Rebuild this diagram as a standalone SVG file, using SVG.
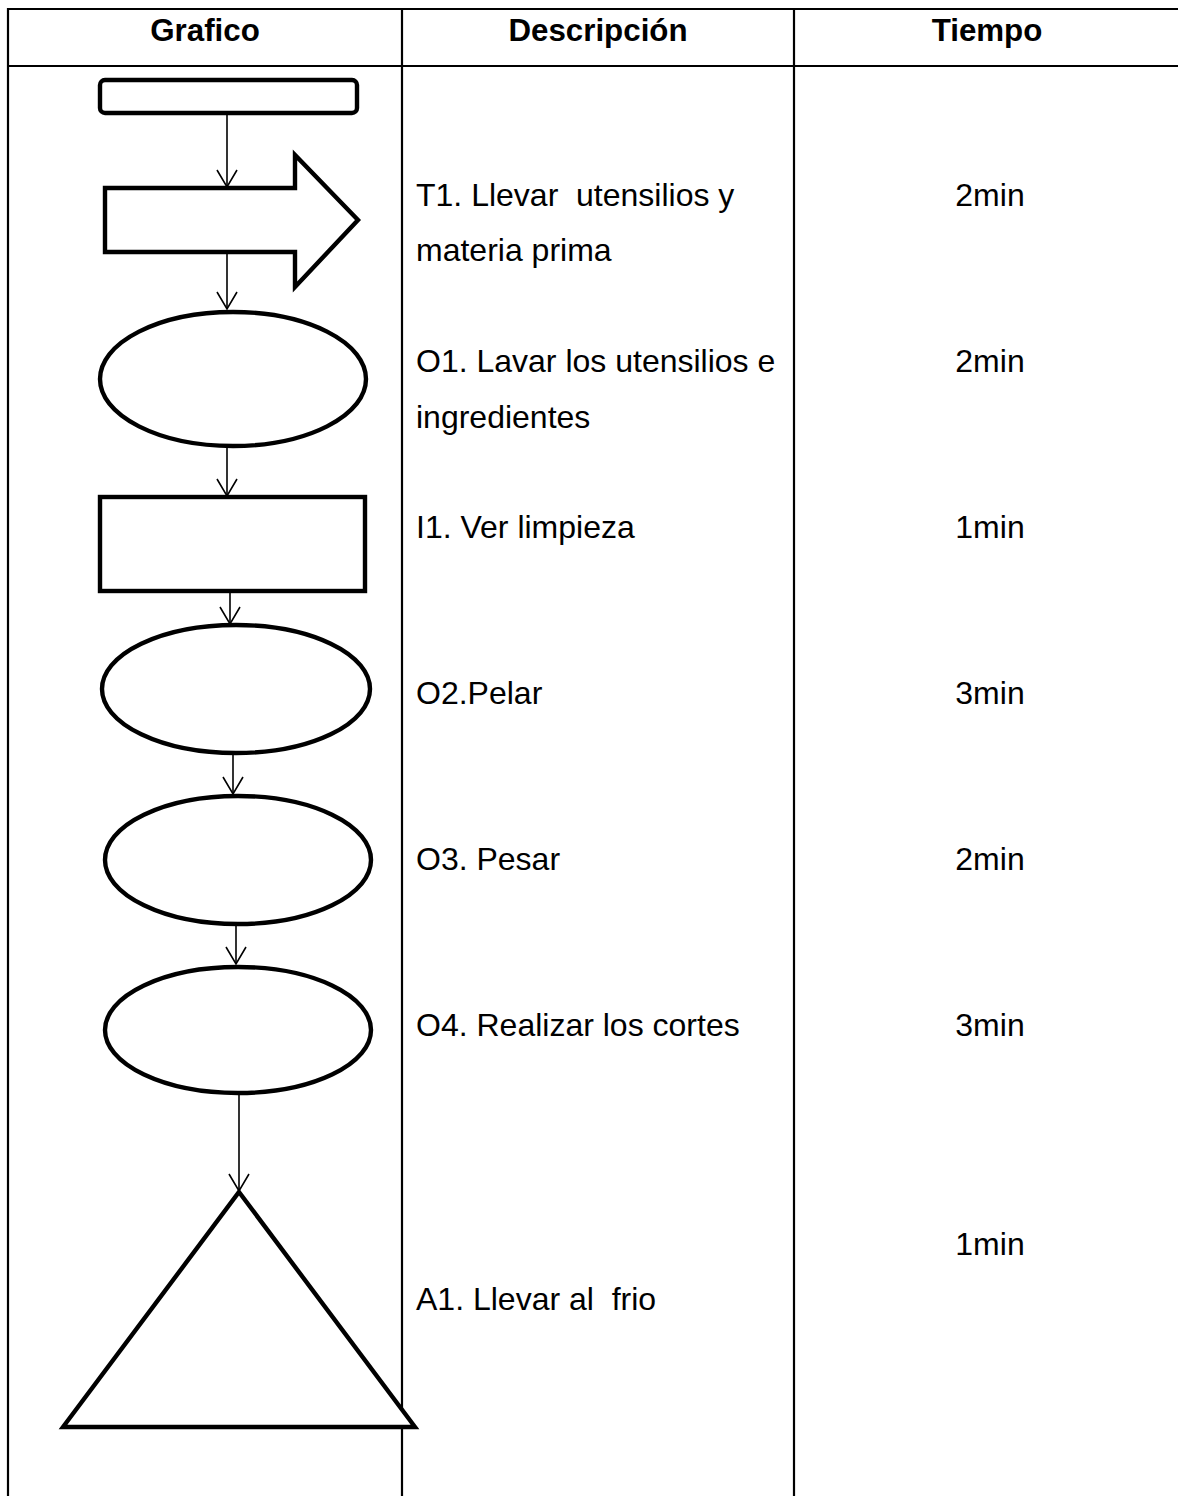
<svg xmlns="http://www.w3.org/2000/svg" width="1178" height="1496" viewBox="0 0 1178 1496">
<style>
.grid{stroke:#000;stroke-width:2.2;fill:none}
.shape{stroke:#000;stroke-width:4.4;fill:#fff;stroke-linejoin:miter}
.conn{stroke:#000;stroke-width:1.6;fill:none}
.h{font-family:"Liberation Sans",Arial,sans-serif;font-weight:bold;font-size:31.3px;fill:#000;text-anchor:middle}
.t{font-family:"Liberation Sans",Arial,sans-serif;font-size:32px;fill:#000;white-space:pre}
.m{font-family:"Liberation Sans",Arial,sans-serif;font-size:32px;fill:#000;text-anchor:middle}
</style>
<defs>
<marker id="ah" markerUnits="userSpaceOnUse" markerWidth="22" markerHeight="24" refX="18" refY="11" orient="auto" viewBox="0 0 22 24">
<polyline points="1,1 18,11 1,21" fill="none" stroke="#000" stroke-width="1.6"/>
</marker>
</defs>
<rect width="1178" height="1496" fill="#fff"/>
<g id="table">
<line class="grid" x1="8" y1="9" x2="1178" y2="9"/>
<line class="grid" x1="8" y1="66" x2="1178" y2="66"/>
<line class="grid" x1="8" y1="8" x2="8" y2="1496"/>
<line class="grid" x1="402" y1="8" x2="402" y2="1496"/>
<line class="grid" x1="794" y1="8" x2="794" y2="1496"/>
<text class="h" x="205" y="41">Grafico</text>
<text class="h" x="598" y="41">Descripción</text>
<text class="h" x="987" y="41">Tiempo</text>
</g>
<g id="connectors">
<line class="conn" x1="227" y1="114" x2="227" y2="187" marker-end="url(#ah)"/>
<line class="conn" x1="227" y1="253" x2="227" y2="309" marker-end="url(#ah)"/>
<line class="conn" x1="227" y1="447" x2="227" y2="496" marker-end="url(#ah)"/>
<line class="conn" x1="230" y1="592" x2="230" y2="624" marker-end="url(#ah)"/>
<line class="conn" x1="233" y1="754" x2="233" y2="794" marker-end="url(#ah)"/>
<line class="conn" x1="236" y1="925" x2="236" y2="964" marker-end="url(#ah)"/>
<line class="conn" x1="239" y1="1095" x2="239" y2="1191" marker-end="url(#ah)"/>
</g>
<g id="start"><rect class="shape" x="100" y="80" width="257" height="33" rx="5"/></g>
<g id="T1">
<polygon class="shape" points="105,188 295,188 295,155 358,220 295,287 295,252 105,252"/>
<text class="t" x="416" y="206">T1. Llevar  utensilios y</text>
<text class="t" x="416" y="261">materia prima</text>
<text class="m" x="990" y="206">2min</text>
</g>
<g id="O1">
<ellipse class="shape" cx="233" cy="379" rx="133" ry="67"/>
<text class="t" x="416" y="372">O1. Lavar los utensilios e</text>
<text class="t" x="416" y="428">ingredientes</text>
<text class="m" x="990" y="372">2min</text>
</g>
<g id="I1">
<rect class="shape" x="100" y="497" width="265" height="94"/>
<text class="t" x="416" y="538">I1. Ver limpieza</text>
<text class="m" x="990" y="538">1min</text>
</g>
<g id="O2">
<ellipse class="shape" cx="236" cy="689" rx="134" ry="64"/>
<text class="t" x="416" y="704">O2.Pelar</text>
<text class="m" x="990" y="704">3min</text>
</g>
<g id="O3">
<ellipse class="shape" cx="238" cy="860" rx="133" ry="64"/>
<text class="t" x="416" y="870">O3. Pesar</text>
<text class="m" x="990" y="870">2min</text>
</g>
<g id="O4">
<ellipse class="shape" cx="238" cy="1030" rx="133" ry="63"/>
<text class="t" x="416" y="1036">O4. Realizar los cortes</text>
<text class="m" x="990" y="1036">3min</text>
</g>
<g id="A1">
<polygon class="shape" points="239,1192 415,1427 63,1427"/>
<text class="t" x="416" y="1310">A1. Llevar al  frio</text>
<text class="m" x="990" y="1255">1min</text>
</g>
</svg>
